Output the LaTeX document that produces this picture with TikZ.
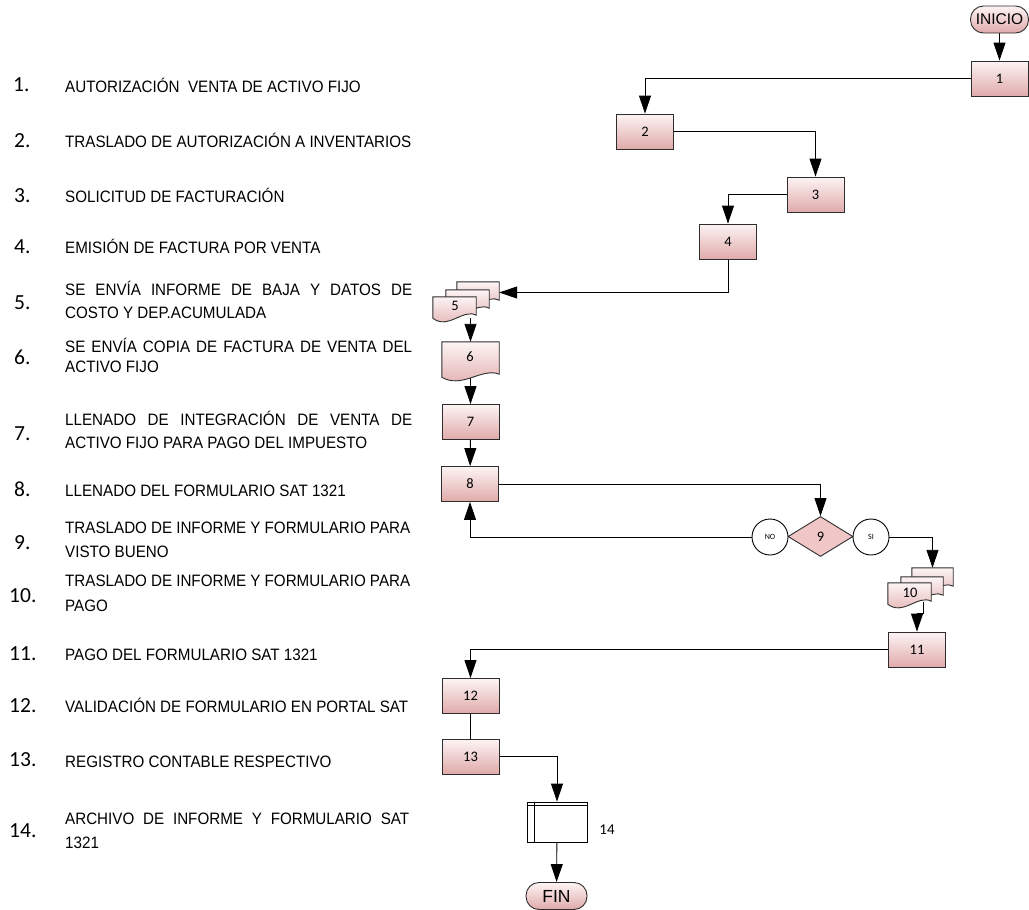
\documentclass[tikz,border=0pt]{standalone}
\usepackage{fontspec}
\setmainfont{Liberation Sans}[FakeStretch=0.92]
\newfontfamily\calfont{Carlito}
\newfontfamily\termfont{Liberation Sans}
\usetikzlibrary{arrows.meta,shapes.geometric,calc,backgrounds}
\definecolor{pinktop}{RGB}{253,244,244}
\definecolor{pinkbot}{RGB}{224,170,170}
\definecolor{diafill}{RGB}{240,198,198}
\definecolor{edge}{RGB}{45,45,45}

% wavy-bottom document sheet drawn round an empty body node
\newcommand\docsheet[1]{%
  \path[sheet] (#1.north west) -- (#1.north east) -- ($(#1.south east)+(0,-3)$)
    .. controls ($(#1.south east)!0.3!(#1.south west)+(0,-10)$) and ($(#1.south west)!0.35!(#1.south east)+(0,12)$) .. (#1.south west) -- cycle;}

\begin{document}
\begin{tikzpicture}[x=1pt,y=-1pt,
  line/.style={draw=black, line width=0.9pt},
  arr/.style={line, -{Triangle[length=18pt,width=12pt]}},
  proc/.style={draw=edge, line width=0.9pt, top color=pinktop, bottom color=pinkbot,
    minimum width=57pt, minimum height=35pt, inner sep=0pt,
    font=\calfont\fontsize{14.5}{16}\selectfont},
  body/.style={minimum width=#1, minimum height=21pt, inner sep=0pt},
  sheet/.style={draw=edge, line width=0.9pt, top color=pinktop, bottom color=pinkbot},
  lbl/.style={inner sep=0pt, font=\calfont\fontsize{14.5}{16}\selectfont},
  term/.style={draw=edge, line width=0.9pt, top color=pinktop, bottom color=pinkbot,
    rounded corners=13pt, minimum height=27pt, inner sep=0pt},
  decide/.style={diamond, draw=edge, line width=0.9pt, fill=diafill, aspect=1.6,
    minimum width=65pt, minimum height=40pt, inner sep=0pt,
    font=\calfont\fontsize{14.5}{16}\selectfont},
  ans/.style={circle, draw=black, line width=0.9pt, fill=white, minimum size=36pt,
    inner sep=0pt, font=\calfont\fontsize{8}{9}\selectfont},
  item/.style={anchor=base west, inner sep=0pt, font=\fontsize{16.5}{18}\selectfont},
  num/.style={anchor=base west, inner sep=0pt, font=\calfont\fontsize{21.5}{23}\selectfont},
]
\useasboundingbox (0,0) rectangle (1029,910);

% ---- numbered list of steps
\node[num] (n1) at (13,91) {1.};
\node[item] (t1) at (65,92) {AUTORIZACIÓN\ \ VENTA DE ACTIVO FIJO};
\node[num] (n2) at (14,147) {2.};
\node[item] (t2) at (65,147) {TRASLADO DE AUTORIZACIÓN A INVENTARIOS};
\node[num] (n3) at (14,202) {3.};
\node[item] (t3) at (65,202) {SOLICITUD DE FACTURACIÓN};
\node[num] (n4) at (14,253) {4.};
\node[item] (t4) at (65,253) {EMISIÓN DE FACTURA POR VENTA};
\node[num] (n5) at (14,309) {5.};
\node[item] (t5a) at (65,295) {\makebox[347pt][s]{SE ENVÍA INFORME DE BAJA Y DATOS DE}};
\node[item] (t5b) at (65,318) {COSTO Y DEP.ACUMULADA};
\node[num] (n6) at (14,364) {6.};
\node[item] (t6a) at (65,352) {\makebox[347pt][s]{SE ENVÍA COPIA DE FACTURA DE VENTA DEL}};
\node[item] (t6b) at (65,372) {ACTIVO FIJO};
\node[num] (n7) at (14,440) {7.};
\node[item] (t7a) at (65,425) {\makebox[347pt][s]{LLENADO DE INTEGRACIÓN DE VENTA DE}};
\node[item] (t7b) at (65,448) {ACTIVO FIJO PARA PAGO DEL IMPUESTO};
\node[num] (n8) at (14,496) {8.};
\node[item] (t8) at (65,496) {LLENADO DEL FORMULARIO SAT 1321};
\node[num] (n9) at (14,549) {9.};
\node[item] (t9a) at (65,533) {\makebox[345pt][s]{TRASLADO DE INFORME Y FORMULARIO PARA}};
\node[item] (t9b) at (65,557) {VISTO BUENO};
\node[num] (n10) at (9,602) {10.};
\node[item] (t10a) at (65,586) {\makebox[345pt][s]{TRASLADO DE INFORME Y FORMULARIO PARA}};
\node[item] (t10b) at (65,611) {PAGO};
\node[num] (n11) at (9,660) {11.};
\node[item] (t11) at (65,660) {PAGO DEL FORMULARIO SAT 1321};
\node[num] (n12) at (9,712) {12.};
\node[item] (t12) at (65,712) {VALIDACIÓN DE FORMULARIO EN PORTAL SAT};
\node[num] (n13) at (9,766) {13.};
\node[item] (t13) at (65,767) {REGISTRO CONTABLE RESPECTIVO};
\node[num] (n14) at (9,837) {14.};
\node[item] (t14a) at (65,824) {\makebox[344pt][s]{ARCHIVO DE INFORME Y FORMULARIO SAT}};
\node[item] (t14b) at (65,848) {1321};

% ---- flowchart shapes
\node[term, minimum width=58pt, font=\termfont\fontsize{15.5}{17}\selectfont] (ini) at (999.5,19.5) {INICIO};
\node[proc] (b1) at (999.5,78.5) {1};
\node[proc] (b2) at (645,131.5) {2};
\node[proc] (b3) at (815.5,194.5) {3};
\node[proc] (b4) at (728,241.5) {4};

% stacked documents 5
\node[body=42pt] (d5c) at (478,292.5) {};
\node[body=43pt] (d5b) at (467.5,300.5) {};
\node[body=43pt] (d5) at (454.5,307.5) {};
\docsheet{d5c}\docsheet{d5b}\docsheet{d5}
\node[lbl] (l5) at (455,306) {5};

% document 6
\node[minimum width=57pt, minimum height=35pt, inner sep=0pt] (d6) at (470.5,359.5) {};
\docsheet{d6}
\node[lbl] (l6) at (470,357) {6};

\node[proc] (b7) at (470.5,422) {7};
\node[proc] (b8) at (470,484) {8};
\node[decide] (q9) at (820.5,536.5) {9};
\node[ans] (no) at (770,537) {NO};
\node[ans] (si) at (871,537) {SI};

% stacked documents 10
\node[body=41pt] (d10c) at (932.5,578.5) {};
\node[body=42pt] (d10b) at (922,587.5) {};
\node[body=43pt] (d10) at (909.5,593.5) {};
\docsheet{d10c}\docsheet{d10b}\docsheet{d10}
\node[lbl] (l10) at (910,593) {10};
\coordinate (d10out) at (923,602);

\node[proc] (b11) at (917,649.5) {11};
\node[proc] (b12) at (470.5,696) {12};
\node[proc] (b13) at (470.5,756.5) {13};

% archive 14
\node[draw=black, line width=0.9pt, fill=white, minimum width=60pt, minimum height=40pt, inner sep=0pt] (s14) at (557,822) {};
\draw[line] ($(s14.north west)+(8,0)$) -- ($(s14.south west)+(8,0)$);
\draw[line] ($(s14.north west)+(0,4)$) -- ($(s14.north east)+(0,4)$);
\node[lbl, font=\calfont\fontsize{15}{16}\selectfont] (l14) at (607,830) {14};

\node[term, minimum width=61pt, font=\termfont\fontsize{17.5}{19}\selectfont] (fin) at (556.5,896) {FIN};

% ---- connectors
\begin{scope}[on background layer]
\draw[arr] (ini) -- (b1);
\draw[arr] (b1.west) -| (b2.north);
\draw[arr] (b2.east) -| (b3.north);
\draw[arr] (b3.west) -| (b4.north);
\draw[arr] (b4.south) |- (d5c.east);
\draw[arr] (d6.north |- d5.south) -- (d6.north);
\draw[arr] (d6.south) -- (b7.north);
\draw[arr] (b7) -- (b8);
\draw[arr] (b8.east) -| (q9.north);
\draw[arr] (no.west) -| (b8.south);
\draw[arr] (si.east) -| (d10c.north);
\draw[arr] (d10out) -- ++(0,11) -| (b11.north);
\draw[arr] (b11.west) -| (b12.north);
\draw[line] (b12) -- (b13);
\draw[arr] (b13.east) -| (s14.north);
\draw[arr] (s14) -- (fin);
\end{scope}
\end{tikzpicture}
\end{document}
